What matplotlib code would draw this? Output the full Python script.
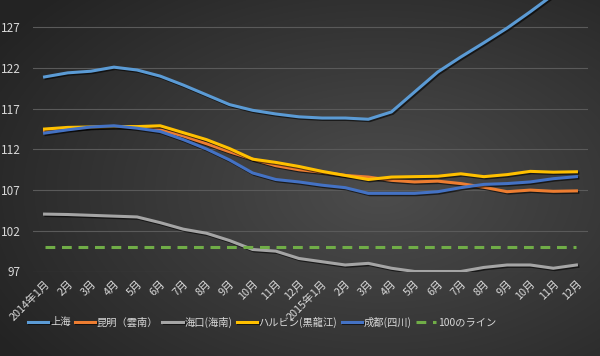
import matplotlib.pyplot as plt
import matplotlib.patheffects as pe
import numpy as np

plt.rcParams['font.family'] = ['Noto Sans CJK JP', 'DejaVu Sans']

MONTHS = ['2014年1月'] + [f'{m}月' for m in range(2, 13)] + \
         ['2015年1月'] + [f'{m}月' for m in range(2, 13)]

SHANGHAI = [120.9, 121.4, 121.6, 122.1, 121.75, 121.0, 119.9, 118.7, 117.5, 116.8, 116.35, 116.0,
            115.85, 115.85, 115.7, 116.6, 119.05, 121.5, 123.35, 125.1, 126.9, 128.9, 131.0, 133.0]
KUNMING = [114.3, 114.5, 114.7, 114.8, 114.75, 114.4, 113.65, 112.7, 111.7, 110.8, 110.0, 109.5,
           109.2, 108.8, 108.6, 108.2, 108.0, 108.1, 107.8, 107.35, 106.8, 107.0, 106.85, 106.9]
HAIKOU = [104.05, 104.0, 103.9, 103.8, 103.7, 103.0, 102.2, 101.7, 100.8, 99.7, 99.5, 98.6,
          98.2, 97.8, 98.0, 97.4, 97.0, 97.0, 97.0, 97.5, 97.8, 97.8, 97.4, 97.8]
HARBIN = [114.5, 114.7, 114.75, 114.8, 114.8, 114.9, 114.05, 113.2, 112.1, 110.8, 110.4, 109.9,
          109.3, 108.8, 108.3, 108.6, 108.65, 108.7, 109.0, 108.65, 108.9, 109.3, 109.2, 109.25]
CHENGDU = [114.0, 114.4, 114.75, 114.9, 114.6, 114.2, 113.2, 112.05, 110.7, 109.1, 108.3, 108.0,
           107.6, 107.3, 106.6, 106.6, 106.6, 106.8, 107.3, 107.7, 107.8, 108.0, 108.4, 108.65]
BASELINE = [100] * 24

SERIES = [
    ('上海', SHANGHAI, '#5b9bd5'),
    ('昆明（雲南）', KUNMING, '#ed7d31'),
    ('海口(海南)', HAIKOU, '#a5a5a5'),
    ('ハルビン(黒龍江)', HARBIN, '#ffc000'),
    ('成都(四川)', CHENGDU, '#4472c4'),
]

fig = plt.figure(figsize=(6, 3.56), dpi=100)

# radial grey background like the Excel theme
bg = fig.add_axes([0, 0, 1, 1], zorder=-10)
yy, xx = np.mgrid[0:356, 0:600]
r = np.sqrt(((xx - 380) / 420.0) ** 2 + ((yy - 190) / 260.0) ** 2)
shade = np.clip(0.30 - 0.15 * r, 0.14, 0.30)
bg.imshow(np.dstack([shade] * 3), aspect='auto', extent=[0, 1, 0, 1])
bg.axis('off')

ax = fig.add_axes([33 / 600, 84.5 / 356, 555 / 600, 271.5 / 356])
ax.set_facecolor('none')

x = np.arange(len(MONTHS))
shadow = [pe.SimpleLineShadow(offset=(1, -1), shadow_color='black', alpha=0.6), pe.Normal()]
for name, vals, color in SERIES:
    ax.plot(x, vals, color=color, linewidth=2.2, label=name, path_effects=shadow,
            solid_joinstyle='round')
ax.plot(x, BASELINE, color='#70ad47', linewidth=2.2, linestyle=(0, (3.2, 2.2)),
        label='100のライン')

ax.set_xlim(-0.5, len(MONTHS) - 0.5)
ax.set_ylim(97, 130.35)
ax.set_yticks([97, 102, 107, 112, 117, 122, 127])
ax.set_xticks(x)
ax.set_xticklabels(MONTHS, rotation=45, ha='right', va='top', rotation_mode='anchor')
ax.tick_params(axis='both', length=0, colors='#d9d9d9', labelsize=8.5)
ax.tick_params(axis='x', pad=5, labelsize=7.8)
ax.tick_params(axis='y', pad=9)
ax.grid(axis='y', color='#5a5a5a', linewidth=0.8)
ax.set_axisbelow(True)
for s in ax.spines.values():
    s.set_visible(False)

leg = ax.legend(loc='center', bbox_to_anchor=((262 - 33) / 555, -50.5 / 271.5), ncol=6,
                frameon=False, fontsize=7.4, handlelength=2.0, columnspacing=0.4,
                handletextpad=0.15)
for t in leg.get_texts():
    t.set_color('#d9d9d9')

fig.savefig('out.png', dpi=100)
